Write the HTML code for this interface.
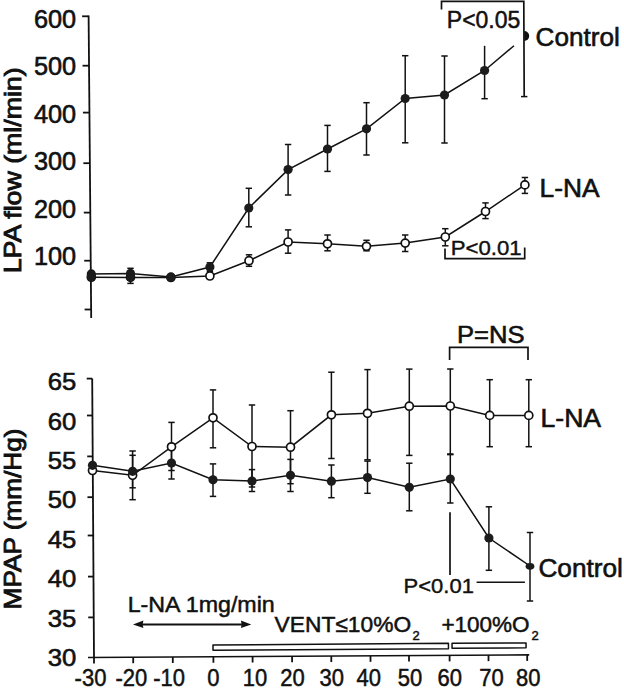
<!DOCTYPE html>
<html><head><meta charset="utf-8"><style>
html,body{margin:0;padding:0;background:#fff;}
svg{display:block;}
text{font-family:"Liberation Sans",sans-serif;fill:#111;stroke:#111;}
</style></head><body>
<svg width="624" height="689" viewBox="0 0 624 689">
<g stroke="#111" stroke-linecap="butt">
<line x1="88.6" y1="15.5" x2="91.2" y2="318" stroke-width="1.8"/>
<line x1="82.10687603305784" y1="16.3" x2="88.60687603305784" y2="16.3" stroke-width="1.8"/>
<line x1="82.53147107438016" y1="65.7" x2="89.03147107438016" y2="65.7" stroke-width="1.8"/>
<line x1="82.93457851239668" y1="112.6" x2="89.43457851239668" y2="112.6" stroke-width="1.8"/>
<line x1="83.36948760330579" y1="163.2" x2="89.86948760330579" y2="163.2" stroke-width="1.8"/>
<line x1="83.79408264462809" y1="212.6" x2="90.29408264462809" y2="212.6" stroke-width="1.8"/>
<line x1="84.2075041322314" y1="260.7" x2="90.7075041322314" y2="260.7" stroke-width="1.8"/>
<line x1="84.62694214876032" y1="309.5" x2="91.12694214876032" y2="309.5" stroke-width="1.8"/>
<text x="76.2" y="27.8" font-size="25" text-anchor="end" textLength="42.2" lengthAdjust="spacingAndGlyphs" stroke-width="0.6">600</text>
<text x="76.2" y="75.24" font-size="25" text-anchor="end" textLength="42.2" lengthAdjust="spacingAndGlyphs" stroke-width="0.6">500</text>
<text x="76.2" y="122.67999999999999" font-size="25" text-anchor="end" textLength="42.2" lengthAdjust="spacingAndGlyphs" stroke-width="0.6">400</text>
<text x="76.2" y="170.12" font-size="25" text-anchor="end" textLength="42.2" lengthAdjust="spacingAndGlyphs" stroke-width="0.6">300</text>
<text x="76.2" y="217.56" font-size="25" text-anchor="end" textLength="42.2" lengthAdjust="spacingAndGlyphs" stroke-width="0.6">200</text>
<text x="76.2" y="265.0" font-size="25" text-anchor="end" textLength="42.2" lengthAdjust="spacingAndGlyphs" stroke-width="0.6">100</text>
<text transform="translate(20.7,273.3) rotate(-90)" font-size="24.5" textLength="206" stroke-width="0.9" lengthAdjust="spacingAndGlyphs">LPA flow (ml/min)</text>
<polyline points="91.3,273.9 130.5,273.4 170.9,276.9 209.9,267 248.8,208 288.1,169.6 327.5,149 366.5,128.8 405.2,98.5 444.5,95 484.6,70.5 514,45.7" fill="none" stroke-width="1.5"/>
<polyline points="91.3,277.2 130.5,277.4 170.9,277.5 209.9,276 249,260.7 288.1,242 327.5,243.8 366.5,246.3 405.2,243.1 445.3,237 485.5,211.5 524.9,184.9" fill="none" stroke-width="1.5"/>
<line x1="130.5" y1="268.3" x2="130.5" y2="279" stroke-width="1.5"/>
<line x1="127.3" y1="268.3" x2="133.7" y2="268.3" stroke-width="1.5"/>
<line x1="127.3" y1="279" x2="133.7" y2="279" stroke-width="1.5"/>
<line x1="209.9" y1="262.8" x2="209.9" y2="271.5" stroke-width="1.5"/>
<line x1="206.70000000000002" y1="262.8" x2="213.1" y2="262.8" stroke-width="1.5"/>
<line x1="206.70000000000002" y1="271.5" x2="213.1" y2="271.5" stroke-width="1.5"/>
<line x1="248.8" y1="188.3" x2="248.8" y2="226.8" stroke-width="1.5"/>
<line x1="245.60000000000002" y1="188.3" x2="252.0" y2="188.3" stroke-width="1.5"/>
<line x1="245.60000000000002" y1="226.8" x2="252.0" y2="226.8" stroke-width="1.5"/>
<line x1="288.1" y1="144.5" x2="288.1" y2="195" stroke-width="1.5"/>
<line x1="284.90000000000003" y1="144.5" x2="291.3" y2="144.5" stroke-width="1.5"/>
<line x1="284.90000000000003" y1="195" x2="291.3" y2="195" stroke-width="1.5"/>
<line x1="327.5" y1="125.4" x2="327.5" y2="171.4" stroke-width="1.5"/>
<line x1="324.3" y1="125.4" x2="330.7" y2="125.4" stroke-width="1.5"/>
<line x1="324.3" y1="171.4" x2="330.7" y2="171.4" stroke-width="1.5"/>
<line x1="366.5" y1="102.7" x2="366.5" y2="155" stroke-width="1.5"/>
<line x1="363.3" y1="102.7" x2="369.7" y2="102.7" stroke-width="1.5"/>
<line x1="363.3" y1="155" x2="369.7" y2="155" stroke-width="1.5"/>
<line x1="405.2" y1="55.7" x2="405.2" y2="142.8" stroke-width="1.5"/>
<line x1="402.0" y1="55.7" x2="408.4" y2="55.7" stroke-width="1.5"/>
<line x1="402.0" y1="142.8" x2="408.4" y2="142.8" stroke-width="1.5"/>
<line x1="444.5" y1="56" x2="444.5" y2="143" stroke-width="1.5"/>
<line x1="441.3" y1="56" x2="447.7" y2="56" stroke-width="1.5"/>
<line x1="441.3" y1="143" x2="447.7" y2="143" stroke-width="1.5"/>
<line x1="484.6" y1="45.8" x2="484.6" y2="98.7" stroke-width="1.5"/>
<line x1="481.40000000000003" y1="98.7" x2="487.8" y2="98.7" stroke-width="1.5"/>
<line x1="521" y1="96.6" x2="527.4" y2="96.6" stroke-width="1.5"/>
<line x1="130.5" y1="271" x2="130.5" y2="283.4" stroke-width="1.5"/>
<line x1="127.3" y1="271" x2="133.7" y2="271" stroke-width="1.5"/>
<line x1="127.3" y1="283.4" x2="133.7" y2="283.4" stroke-width="1.5"/>
<line x1="249" y1="254.8" x2="249" y2="266.3" stroke-width="1.5"/>
<line x1="245.8" y1="254.8" x2="252.2" y2="254.8" stroke-width="1.5"/>
<line x1="245.8" y1="266.3" x2="252.2" y2="266.3" stroke-width="1.5"/>
<line x1="288.1" y1="229.9" x2="288.1" y2="253.2" stroke-width="1.5"/>
<line x1="284.90000000000003" y1="229.9" x2="291.3" y2="229.9" stroke-width="1.5"/>
<line x1="284.90000000000003" y1="253.2" x2="291.3" y2="253.2" stroke-width="1.5"/>
<line x1="327.5" y1="235" x2="327.5" y2="250.8" stroke-width="1.5"/>
<line x1="324.3" y1="235" x2="330.7" y2="235" stroke-width="1.5"/>
<line x1="324.3" y1="250.8" x2="330.7" y2="250.8" stroke-width="1.5"/>
<line x1="366.5" y1="240.3" x2="366.5" y2="250.8" stroke-width="1.5"/>
<line x1="363.3" y1="240.3" x2="369.7" y2="240.3" stroke-width="1.5"/>
<line x1="363.3" y1="250.8" x2="369.7" y2="250.8" stroke-width="1.5"/>
<line x1="405.2" y1="235" x2="405.2" y2="251.5" stroke-width="1.5"/>
<line x1="402.0" y1="235" x2="408.4" y2="235" stroke-width="1.5"/>
<line x1="402.0" y1="251.5" x2="408.4" y2="251.5" stroke-width="1.5"/>
<line x1="445.3" y1="228.7" x2="445.3" y2="245.8" stroke-width="1.5"/>
<line x1="442.1" y1="228.7" x2="448.5" y2="228.7" stroke-width="1.5"/>
<line x1="442.1" y1="245.8" x2="448.5" y2="245.8" stroke-width="1.5"/>
<line x1="485.5" y1="202.9" x2="485.5" y2="218.6" stroke-width="1.5"/>
<line x1="482.3" y1="202.9" x2="488.7" y2="202.9" stroke-width="1.5"/>
<line x1="482.3" y1="218.6" x2="488.7" y2="218.6" stroke-width="1.5"/>
<line x1="524.9" y1="177.5" x2="524.9" y2="193.4" stroke-width="1.5"/>
<line x1="521.6999999999999" y1="177.5" x2="528.1" y2="177.5" stroke-width="1.5"/>
<line x1="521.6999999999999" y1="193.4" x2="528.1" y2="193.4" stroke-width="1.5"/>
<circle cx="91.3" cy="277.2" r="4.0" fill="#fff" stroke-width="1.7"/>
<circle cx="130.5" cy="277.4" r="4.0" fill="#fff" stroke-width="1.7"/>
<circle cx="170.9" cy="277.5" r="4.0" fill="#fff" stroke-width="1.7"/>
<circle cx="209.9" cy="276" r="4.0" fill="#fff" stroke-width="1.7"/>
<circle cx="249" cy="260.7" r="4.0" fill="#fff" stroke-width="1.7"/>
<circle cx="288.1" cy="242" r="4.0" fill="#fff" stroke-width="1.7"/>
<circle cx="327.5" cy="243.8" r="4.0" fill="#fff" stroke-width="1.7"/>
<circle cx="366.5" cy="246.3" r="4.0" fill="#fff" stroke-width="1.7"/>
<circle cx="405.2" cy="243.1" r="4.0" fill="#fff" stroke-width="1.7"/>
<circle cx="445.3" cy="237" r="4.0" fill="#fff" stroke-width="1.7"/>
<circle cx="485.5" cy="211.5" r="4.0" fill="#fff" stroke-width="1.7"/>
<circle cx="524.9" cy="184.9" r="4.0" fill="#fff" stroke-width="1.7"/>
<circle cx="91.3" cy="273.9" r="4.6" fill="#1c1c1c" stroke="none"/>
<circle cx="130.5" cy="273.4" r="4.6" fill="#1c1c1c" stroke="none"/>
<circle cx="170.9" cy="276.9" r="4.6" fill="#1c1c1c" stroke="none"/>
<circle cx="209.9" cy="267" r="4.6" fill="#1c1c1c" stroke="none"/>
<circle cx="248.8" cy="208" r="4.6" fill="#1c1c1c" stroke="none"/>
<circle cx="288.1" cy="169.6" r="4.6" fill="#1c1c1c" stroke="none"/>
<circle cx="327.5" cy="149" r="4.6" fill="#1c1c1c" stroke="none"/>
<circle cx="366.5" cy="128.8" r="4.6" fill="#1c1c1c" stroke="none"/>
<circle cx="405.2" cy="98.5" r="4.6" fill="#1c1c1c" stroke="none"/>
<circle cx="444.5" cy="95" r="4.6" fill="#1c1c1c" stroke="none"/>
<circle cx="484.6" cy="70.5" r="4.6" fill="#1c1c1c" stroke="none"/>
<circle cx="91.3" cy="276.8" r="4.4" fill="#1c1c1c" stroke="none"/>
<circle cx="130.5" cy="276.8" r="4.4" fill="#1c1c1c" stroke="none"/>
<path d="M524.2,31 A5,5 0 0 1 524.2,41 Z" fill="#111" stroke="none"/>
<polyline points="441.5,9.6 441.5,1.3 523.8,1.3 524.2,96" fill="none" stroke-width="1.7"/>
<text x="446.8" y="27.5" font-size="23" text-anchor="start" textLength="73.5" lengthAdjust="spacingAndGlyphs" stroke-width="0.5">P&lt;0.05</text>
<text x="535.6" y="45.8" font-size="25.3" text-anchor="start" textLength="84.2" lengthAdjust="spacingAndGlyphs" stroke-width="0.6">Control</text>
<text x="539.6" y="196.6" font-size="25.2" text-anchor="start" textLength="60" lengthAdjust="spacingAndGlyphs" stroke-width="0.6">L-NA</text>
<polyline points="445,248.5 445,258.6 524.7,258.6 524.7,247.6" fill="none" stroke-width="1.7"/>
<text x="450.8" y="255.2" font-size="20.5" text-anchor="start" textLength="70.9" lengthAdjust="spacingAndGlyphs" stroke-width="0.4">P&lt;0.01</text>
<line x1="92.2" y1="378.5" x2="94" y2="657.5" stroke-width="1.8"/>
<line x1="88" y1="657.5" x2="529.2" y2="654.9" stroke-width="1.7"/>
<line x1="94" y1="657.4646418857661" x2="94" y2="663.4646418857661" stroke-width="1.8"/>
<text x="90.5" y="685.6" font-size="23" text-anchor="middle" textLength="31.79" lengthAdjust="spacingAndGlyphs" stroke-width="0.5">-30</text>
<line x1="133.2" y1="657.2336355394378" x2="133.2" y2="663.2336355394378" stroke-width="1.8"/>
<text x="131.29999999999998" y="685.6" font-size="23" text-anchor="middle" textLength="31.79" lengthAdjust="spacingAndGlyphs" stroke-width="0.5">-20</text>
<line x1="172.8" y1="657.0002719854941" x2="172.8" y2="663.0002719854941" stroke-width="1.8"/>
<text x="169.20000000000002" y="685.6" font-size="23" text-anchor="middle" textLength="31.79" lengthAdjust="spacingAndGlyphs" stroke-width="0.5">-10</text>
<line x1="213.4" y1="656.7610154125114" x2="213.4" y2="662.7610154125114" stroke-width="1.8"/>
<text x="213.3" y="685.6" font-size="23" text-anchor="middle" textLength="12.23" lengthAdjust="spacingAndGlyphs" stroke-width="0.5">0</text>
<line x1="252.6" y1="656.5300090661831" x2="252.6" y2="662.5300090661831" stroke-width="1.8"/>
<text x="254.9" y="685.6" font-size="23" text-anchor="middle" textLength="24.46" lengthAdjust="spacingAndGlyphs" stroke-width="0.5">10</text>
<line x1="292.1" y1="656.2972348141433" x2="292.1" y2="662.2972348141433" stroke-width="1.8"/>
<text x="292.6" y="685.6" font-size="23" text-anchor="middle" textLength="24.46" lengthAdjust="spacingAndGlyphs" stroke-width="0.5">20</text>
<line x1="331.3" y1="656.066228467815" x2="331.3" y2="662.066228467815" stroke-width="1.8"/>
<text x="331.8" y="685.6" font-size="23" text-anchor="middle" textLength="24.46" lengthAdjust="spacingAndGlyphs" stroke-width="0.5">30</text>
<line x1="370.5" y1="655.8352221214868" x2="370.5" y2="661.8352221214868" stroke-width="1.8"/>
<text x="368.8" y="685.6" font-size="23" text-anchor="middle" textLength="24.46" lengthAdjust="spacingAndGlyphs" stroke-width="0.5">40</text>
<line x1="409" y1="655.6083408884859" x2="409" y2="661.6083408884859" stroke-width="1.8"/>
<text x="410.1" y="685.6" font-size="23" text-anchor="middle" textLength="24.46" lengthAdjust="spacingAndGlyphs" stroke-width="0.5">50</text>
<line x1="449.6" y1="655.3690843155032" x2="449.6" y2="661.3690843155032" stroke-width="1.8"/>
<text x="449.70000000000005" y="685.6" font-size="23" text-anchor="middle" textLength="24.46" lengthAdjust="spacingAndGlyphs" stroke-width="0.5">60</text>
<line x1="488.5" y1="655.1398458748866" x2="488.5" y2="661.1398458748866" stroke-width="1.8"/>
<text x="491.4" y="685.6" font-size="23" text-anchor="middle" textLength="24.46" lengthAdjust="spacingAndGlyphs" stroke-width="0.5">70</text>
<line x1="527.2" y1="654.9117860380779" x2="527.2" y2="660.9117860380779" stroke-width="1.8"/>
<text x="528.2" y="685.6" font-size="23" text-anchor="middle" textLength="24.46" lengthAdjust="spacingAndGlyphs" stroke-width="0.5">80</text>
<line x1="86.70064516129032" y1="378.6" x2="92.20064516129032" y2="378.6" stroke-width="1.8"/>
<line x1="86.93870967741935" y1="415.5" x2="92.43870967741935" y2="415.5" stroke-width="1.8"/>
<line x1="87.20258064516129" y1="456.4" x2="92.70258064516129" y2="456.4" stroke-width="1.8"/>
<line x1="87.4658064516129" y1="497.2" x2="92.9658064516129" y2="497.2" stroke-width="1.8"/>
<line x1="87.71290322580646" y1="535.5" x2="93.21290322580646" y2="535.5" stroke-width="1.8"/>
<line x1="87.97806451612904" y1="576.6" x2="93.47806451612904" y2="576.6" stroke-width="1.8"/>
<line x1="88.24129032258065" y1="617.4" x2="93.74129032258065" y2="617.4" stroke-width="1.8"/>
<text x="76.4" y="390.2" font-size="24.5" text-anchor="end" textLength="28.6" lengthAdjust="spacingAndGlyphs" stroke-width="0.6">65</text>
<text x="76.4" y="429.59999999999997" font-size="24.5" text-anchor="end" textLength="28.6" lengthAdjust="spacingAndGlyphs" stroke-width="0.6">60</text>
<text x="76.4" y="469.0" font-size="24.5" text-anchor="end" textLength="28.6" lengthAdjust="spacingAndGlyphs" stroke-width="0.6">55</text>
<text x="76.4" y="508.4" font-size="24.5" text-anchor="end" textLength="28.6" lengthAdjust="spacingAndGlyphs" stroke-width="0.6">50</text>
<text x="76.4" y="547.8" font-size="24.5" text-anchor="end" textLength="28.6" lengthAdjust="spacingAndGlyphs" stroke-width="0.6">45</text>
<text x="76.4" y="587.2" font-size="24.5" text-anchor="end" textLength="28.6" lengthAdjust="spacingAndGlyphs" stroke-width="0.6">40</text>
<text x="76.4" y="626.5999999999999" font-size="24.5" text-anchor="end" textLength="28.6" lengthAdjust="spacingAndGlyphs" stroke-width="0.6">35</text>
<text x="76.4" y="666.0" font-size="24.5" text-anchor="end" textLength="28.6" lengthAdjust="spacingAndGlyphs" stroke-width="0.6">30</text>
<text transform="translate(20.7,609.4) rotate(-90)" font-size="24" textLength="181" stroke-width="0.9" lengthAdjust="spacingAndGlyphs">MPAP (mm/Hg)</text>
<polyline points="92.5,470.5 132.6,475.3 171.5,446.8 213,417.8 252,446.5 290.5,447.2 331.4,414.8 367.5,413.3 409.3,406.2 450.3,406 489.7,415.4 528.8,415.4" fill="none" stroke-width="1.5"/>
<polyline points="92.5,465.3 132.6,471.3 171.5,463 213,479.8 252,481 290.5,475.3 331.4,481.2 367.5,477.6 409.3,487.3 450.3,479 488.9,538 530,566" fill="none" stroke-width="1.5"/>
<line x1="132.6" y1="451" x2="132.6" y2="499.7" stroke-width="1.5"/>
<line x1="129.4" y1="451" x2="135.79999999999998" y2="451" stroke-width="1.5"/>
<line x1="129.4" y1="499.7" x2="135.79999999999998" y2="499.7" stroke-width="1.5"/>
<line x1="171.5" y1="422.4" x2="171.5" y2="470.5" stroke-width="1.5"/>
<line x1="168.3" y1="422.4" x2="174.7" y2="422.4" stroke-width="1.5"/>
<line x1="168.3" y1="470.5" x2="174.7" y2="470.5" stroke-width="1.5"/>
<line x1="213" y1="389.9" x2="213" y2="447.8" stroke-width="1.5"/>
<line x1="209.8" y1="389.9" x2="216.2" y2="389.9" stroke-width="1.5"/>
<line x1="209.8" y1="447.8" x2="216.2" y2="447.8" stroke-width="1.5"/>
<line x1="252" y1="405" x2="252" y2="487" stroke-width="1.5"/>
<line x1="248.8" y1="405" x2="255.2" y2="405" stroke-width="1.5"/>
<line x1="248.8" y1="487" x2="255.2" y2="487" stroke-width="1.5"/>
<line x1="290.5" y1="410.7" x2="290.5" y2="483.7" stroke-width="1.5"/>
<line x1="287.3" y1="410.7" x2="293.7" y2="410.7" stroke-width="1.5"/>
<line x1="287.3" y1="483.7" x2="293.7" y2="483.7" stroke-width="1.5"/>
<line x1="331.4" y1="372.2" x2="331.4" y2="458.5" stroke-width="1.5"/>
<line x1="328.2" y1="372.2" x2="334.59999999999997" y2="372.2" stroke-width="1.5"/>
<line x1="328.2" y1="458.5" x2="334.59999999999997" y2="458.5" stroke-width="1.5"/>
<line x1="367.5" y1="369.6" x2="367.5" y2="459.8" stroke-width="1.5"/>
<line x1="364.3" y1="369.6" x2="370.7" y2="369.6" stroke-width="1.5"/>
<line x1="364.3" y1="459.8" x2="370.7" y2="459.8" stroke-width="1.5"/>
<line x1="409.3" y1="369.1" x2="409.3" y2="455.4" stroke-width="1.5"/>
<line x1="406.1" y1="369.1" x2="412.5" y2="369.1" stroke-width="1.5"/>
<line x1="406.1" y1="455.4" x2="412.5" y2="455.4" stroke-width="1.5"/>
<line x1="450.3" y1="369" x2="450.3" y2="454.6" stroke-width="1.5"/>
<line x1="447.1" y1="369" x2="453.5" y2="369" stroke-width="1.5"/>
<line x1="447.1" y1="454.6" x2="453.5" y2="454.6" stroke-width="1.5"/>
<line x1="489.7" y1="379.7" x2="489.7" y2="446.7" stroke-width="1.5"/>
<line x1="486.5" y1="379.7" x2="492.9" y2="379.7" stroke-width="1.5"/>
<line x1="486.5" y1="446.7" x2="492.9" y2="446.7" stroke-width="1.5"/>
<line x1="528.8" y1="379.7" x2="528.8" y2="446.7" stroke-width="1.5"/>
<line x1="525.5999999999999" y1="379.7" x2="532.0" y2="379.7" stroke-width="1.5"/>
<line x1="525.5999999999999" y1="446.7" x2="532.0" y2="446.7" stroke-width="1.5"/>
<line x1="132.6" y1="455.3" x2="132.6" y2="487.8" stroke-width="1.5"/>
<line x1="129.4" y1="455.3" x2="135.79999999999998" y2="455.3" stroke-width="1.5"/>
<line x1="129.4" y1="487.8" x2="135.79999999999998" y2="487.8" stroke-width="1.5"/>
<line x1="171.5" y1="447" x2="171.5" y2="479" stroke-width="1.5"/>
<line x1="168.3" y1="447" x2="174.7" y2="447" stroke-width="1.5"/>
<line x1="168.3" y1="479" x2="174.7" y2="479" stroke-width="1.5"/>
<line x1="213" y1="463.9" x2="213" y2="496.4" stroke-width="1.5"/>
<line x1="209.8" y1="463.9" x2="216.2" y2="463.9" stroke-width="1.5"/>
<line x1="209.8" y1="496.4" x2="216.2" y2="496.4" stroke-width="1.5"/>
<line x1="252" y1="469.6" x2="252" y2="491.5" stroke-width="1.5"/>
<line x1="248.8" y1="469.6" x2="255.2" y2="469.6" stroke-width="1.5"/>
<line x1="248.8" y1="491.5" x2="255.2" y2="491.5" stroke-width="1.5"/>
<line x1="290.5" y1="459.4" x2="290.5" y2="491.5" stroke-width="1.5"/>
<line x1="287.3" y1="459.4" x2="293.7" y2="459.4" stroke-width="1.5"/>
<line x1="287.3" y1="491.5" x2="293.7" y2="491.5" stroke-width="1.5"/>
<line x1="331.4" y1="465" x2="331.4" y2="497.7" stroke-width="1.5"/>
<line x1="328.2" y1="465" x2="334.59999999999997" y2="465" stroke-width="1.5"/>
<line x1="328.2" y1="497.7" x2="334.59999999999997" y2="497.7" stroke-width="1.5"/>
<line x1="367.5" y1="461.1" x2="367.5" y2="493.3" stroke-width="1.5"/>
<line x1="364.3" y1="461.1" x2="370.7" y2="461.1" stroke-width="1.5"/>
<line x1="364.3" y1="493.3" x2="370.7" y2="493.3" stroke-width="1.5"/>
<line x1="409.3" y1="463.2" x2="409.3" y2="510.8" stroke-width="1.5"/>
<line x1="406.1" y1="463.2" x2="412.5" y2="463.2" stroke-width="1.5"/>
<line x1="406.1" y1="510.8" x2="412.5" y2="510.8" stroke-width="1.5"/>
<line x1="450.3" y1="454" x2="450.3" y2="503" stroke-width="1.5"/>
<line x1="447.1" y1="454" x2="453.5" y2="454" stroke-width="1.5"/>
<line x1="447.1" y1="503" x2="453.5" y2="503" stroke-width="1.5"/>
<line x1="488.9" y1="506.8" x2="488.9" y2="570.3" stroke-width="1.5"/>
<line x1="485.7" y1="506.8" x2="492.09999999999997" y2="506.8" stroke-width="1.5"/>
<line x1="485.7" y1="570.3" x2="492.09999999999997" y2="570.3" stroke-width="1.5"/>
<line x1="530" y1="532.5" x2="530" y2="601" stroke-width="1.5"/>
<line x1="526.8" y1="532.5" x2="533.2" y2="532.5" stroke-width="1.5"/>
<line x1="526.8" y1="601" x2="533.2" y2="601" stroke-width="1.5"/>
<circle cx="92.5" cy="470.5" r="4.0" fill="#fff" stroke-width="1.7"/>
<circle cx="132.6" cy="475.3" r="4.0" fill="#fff" stroke-width="1.7"/>
<circle cx="171.5" cy="446.8" r="4.0" fill="#fff" stroke-width="1.7"/>
<circle cx="213" cy="417.8" r="4.0" fill="#fff" stroke-width="1.7"/>
<circle cx="252" cy="446.5" r="4.0" fill="#fff" stroke-width="1.7"/>
<circle cx="290.5" cy="447.2" r="4.0" fill="#fff" stroke-width="1.7"/>
<circle cx="331.4" cy="414.8" r="4.0" fill="#fff" stroke-width="1.7"/>
<circle cx="367.5" cy="413.3" r="4.0" fill="#fff" stroke-width="1.7"/>
<circle cx="409.3" cy="406.2" r="4.0" fill="#fff" stroke-width="1.7"/>
<circle cx="450.3" cy="406" r="4.0" fill="#fff" stroke-width="1.7"/>
<circle cx="489.7" cy="415.4" r="4.0" fill="#fff" stroke-width="1.7"/>
<circle cx="528.8" cy="415.4" r="4.0" fill="#fff" stroke-width="1.7"/>
<circle cx="92.5" cy="465.3" r="4.6" fill="#1c1c1c" stroke="none"/>
<circle cx="132.6" cy="471.3" r="4.6" fill="#1c1c1c" stroke="none"/>
<circle cx="171.5" cy="463" r="4.6" fill="#1c1c1c" stroke="none"/>
<circle cx="213" cy="479.8" r="4.6" fill="#1c1c1c" stroke="none"/>
<circle cx="252" cy="481" r="4.6" fill="#1c1c1c" stroke="none"/>
<circle cx="290.5" cy="475.3" r="4.6" fill="#1c1c1c" stroke="none"/>
<circle cx="331.4" cy="481.2" r="4.6" fill="#1c1c1c" stroke="none"/>
<circle cx="367.5" cy="477.6" r="4.6" fill="#1c1c1c" stroke="none"/>
<circle cx="409.3" cy="487.3" r="4.6" fill="#1c1c1c" stroke="none"/>
<circle cx="450.3" cy="479" r="4.6" fill="#1c1c1c" stroke="none"/>
<circle cx="488.9" cy="538" r="4.6" fill="#1c1c1c" stroke="none"/>
<ellipse cx="530" cy="566.3" rx="4.4" ry="3.4" fill="#1c1c1c" stroke="none"/>
<text x="538.4" y="576.5" font-size="25.3" text-anchor="start" textLength="84.5" lengthAdjust="spacingAndGlyphs" stroke-width="0.6">Control</text>
<text x="540.5" y="427.2" font-size="25.2" text-anchor="start" textLength="60.6" lengthAdjust="spacingAndGlyphs" stroke-width="0.6">L-NA</text>
<text x="457" y="342.7" font-size="24" text-anchor="start" textLength="67.5" lengthAdjust="spacingAndGlyphs" stroke-width="0.6">P=NS</text>
<polyline points="449.6,360 449.6,347.3 528,347.3 528,360" fill="none" stroke-width="1.7"/>
<line x1="450" y1="512.3" x2="450" y2="575" stroke-width="1.7"/>
<line x1="476.6" y1="582.3" x2="524.9" y2="582.3" stroke-width="1.6"/>
<text x="403.6" y="593.2" font-size="20.5" text-anchor="start" textLength="70.3" lengthAdjust="spacingAndGlyphs" stroke-width="0.4">P&lt;0.01</text>
<text x="127.7" y="612.2" font-size="22.5" text-anchor="start" textLength="147.1" lengthAdjust="spacingAndGlyphs" stroke-width="0.5">L-NA 1mg/min</text>
<line x1="137" y1="624.5" x2="247" y2="624.5" stroke-width="1.8"/>
<path d="M133,624.4 L143.4,620.6 L142.6,624.4 L143.4,628 Z" fill="#111" stroke="none"/>
<path d="M251.3,624.4 L240.9,620.6 L241.7,624.4 L240.9,628 Z" fill="#111" stroke="none"/>
<text x="274.6" y="632.2" font-size="22.5" text-anchor="start" textLength="136.5" lengthAdjust="spacingAndGlyphs" stroke-width="0.5">VENT≤10%O</text>
<text x="412.5" y="639.8" font-size="12.5" text-anchor="start" textLength="7.2" lengthAdjust="spacingAndGlyphs" stroke-width="0.5">2</text>
<text x="441.4" y="632.2" font-size="22.5" text-anchor="start" textLength="88.2" lengthAdjust="spacingAndGlyphs" stroke-width="0.5">+100%O</text>
<text x="531.5" y="639.8" font-size="12.5" text-anchor="start" textLength="7.2" lengthAdjust="spacingAndGlyphs" stroke-width="0.5">2</text>
<polygon points="213,645.05 448.45,643.35 448.45,648.65 213,650.15" fill="#fff" stroke-width="1.5" stroke-linejoin="round"/>
<polygon points="452.05,643.35 526.05,643.05 526.05,647.85 452.05,648.35" fill="#fff" stroke-width="1.5" stroke-linejoin="round"/>
</g>
</svg>
</body></html>
